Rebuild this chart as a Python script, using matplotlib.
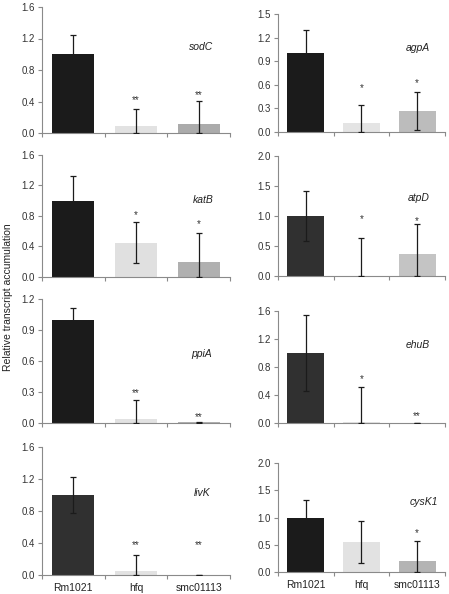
import matplotlib
matplotlib.use("Agg")
import matplotlib.pyplot as plt
import numpy as np

plt.rcParams['font.family'] = ['Liberation Sans', 'DejaVu Sans']

strains = ["Rm1021", "hfq", "smc01113"]
genes = ["sodC", "agpA", "katB", "atpD", "ppiA", "ehuB", "livK", "cysK1"]

means = {
    "sodC": [1.00, 0.09, 0.11],
    "agpA": [1.00, 0.11, 0.27],
    "katB": [1.00, 0.45, 0.20],
    "atpD": [1.00, 0.00, 0.37],
    "ppiA": [1.00, 0.04, 0.005],
    "ehuB": [1.00, 0.01, 0.003],
    "livK": [1.00, 0.05, 0.005],
    "cysK1": [1.00, 0.55, 0.20],
}
errors = {
    "sodC": [0.25, 0.21, 0.30],
    "agpA": [0.30, 0.23, 0.24],
    "katB": [0.33, 0.27, 0.38],
    "atpD": [0.42, 0.63, 0.49],
    "ppiA": [0.11, 0.18, 0.005],
    "ehuB": [0.54, 0.50, 0.0],
    "livK": [0.23, 0.20, 0.0],
    "cysK1": [0.33, 0.38, 0.37],
}
stars = {
    "sodC": ["", "**", "**"],
    "agpA": ["", "*", "*"],
    "katB": ["", "*", "*"],
    "atpD": ["", "*", "*"],
    "ppiA": ["", "**", "**"],
    "ehuB": ["", "*", "**"],
    "livK": ["", "**", "**"],
    "cysK1": ["", "", "*"],
}
star_y = {
    "sodC": [0, 0.42, 0.48],
    "agpA": [0, 0.56, 0.62],
    "katB": [0, 0.81, 0.70],
    "atpD": [0, 0.95, 0.92],
    "ppiA": [0, 0.29, 0.06],
    "ehuB": [0, 0.63, 0.10],
    "livK": [0, 0.375, 0.375],
    "cysK1": [0, 0, 0.72],
}
yticks = {
    "sodC": [0.0, 0.4, 0.8, 1.2, 1.6],
    "agpA": [0.0, 0.3, 0.6, 0.9, 1.2, 1.5],
    "katB": [0.0, 0.4, 0.8, 1.2, 1.6],
    "atpD": [0.0, 0.5, 1.0, 1.5, 2.0],
    "ppiA": [0.0, 0.3, 0.6, 0.9, 1.2],
    "ehuB": [0.0, 0.4, 0.8, 1.2, 1.6],
    "livK": [0.0, 0.4, 0.8, 1.2, 1.6],
    "cysK1": [0.0, 0.5, 1.0, 1.5, 2.0],
}
colors = {
    "sodC": ["#1b1b1b", "#e2e2e2", "#ababab"],
    "agpA": ["#1b1b1b", "#e4e4e4", "#bcbcbc"],
    "katB": ["#1b1b1b", "#e0e0e0", "#b0b0b0"],
    "atpD": ["#303030", "#e2e2e2", "#c4c4c4"],
    "ppiA": ["#1b1b1b", "#e2e2e2", "#b0b0b0"],
    "ehuB": ["#303030", "#e2e2e2", "#b0b0b0"],
    "livK": ["#303030", "#e2e2e2", "#b0b0b0"],
    "cysK1": ["#1b1b1b", "#e2e2e2", "#b4b4b4"],
}
label_pos = {
    "sodC": (0.91, 0.68), "agpA": (0.91, 0.71),
    "katB": (0.91, 0.63), "atpD": (0.91, 0.65),
    "ppiA": (0.905, 0.56), "ehuB": (0.91, 0.70),
    "livK": (0.895, 0.64), "cysK1": (0.96, 0.64),
}

W, H = 449, 594
# (left px, right px, top px, bottom px)
boxes = {
    "sodC": (42, 230, 7, 133), "agpA": (278, 445, 14, 132),
    "katB": (42, 230, 155, 277), "atpD": (278, 445, 156, 276),
    "ppiA": (42, 230, 299, 423), "ehuB": (278, 445, 311, 423),
    "livK": (42, 230, 447, 575), "cysK1": (278, 445, 463, 572),
}

fig = plt.figure(figsize=(W / 100, H / 100), dpi=100)
x = np.arange(len(strains))
spine_c = "#8a8a8a"
for gi, g in enumerate(genes):
    l, r, t, b = boxes[g]
    ax = fig.add_axes([l / W, 1 - b / H, (r - l) / W, (b - t) / H])
    ax.bar(x, means[g], width=0.67, color=colors[g], zorder=2)
    m = np.array(means[g]); e = np.array(errors[g])
    lower = np.minimum(e, m)
    ax.errorbar(x, m, yerr=[lower, e], fmt="none", ecolor="#1b1b1b",
                elinewidth=0.9, capsize=2.5, capthick=0.9, zorder=3)
    for i in range(3):
        if stars[g][i]:
            ax.text(x[i], star_y[g][i], stars[g][i], ha="center", va="center",
                    fontsize=7, color="#333333")
    ax.set_xlim(-0.5, 2.5)
    top = yticks[g][-1]
    ax.set_ylim(0, top)
    ax.set_yticks(yticks[g])
    ax.set_yticklabels([f"{v:.1f}" for v in yticks[g]])
    ax.set_xticks([-0.5, 0.5, 1.5, 2.5])
    ax.set_xticklabels([])
    ax.tick_params(axis="x", which="major", direction="out", length=3,
                   color=spine_c, width=0.8)
    ax.tick_params(axis="y", direction="out", length=3, color=spine_c,
                   width=0.8, labelsize=7, labelcolor="#333333", pad=2)
    if g in ("livK", "cysK1"):
        ax.set_xticks(x, minor=True)
        ax.set_xticklabels(strains, minor=True)
        ax.tick_params(axis="x", which="minor", length=0, labelsize=7.5,
                       labelcolor="#222222", pad=6)
    for s in ("top", "right"):
        ax.spines[s].set_visible(False)
    for s in ("left", "bottom"):
        ax.spines[s].set_color(spine_c)
        ax.spines[s].set_linewidth(0.8)
    ax.text(label_pos[g][0], label_pos[g][1], g, transform=ax.transAxes,
            ha="right", va="center", fontsize=7.5, style="italic",
            color="#222222")

fig.text(8 / W, 1 - 297 / H, "Relative transcript accumulation", rotation=90,
         ha="center", va="center", fontsize=7.5, color="#222222")

fig.savefig("out.png", dpi=100)
